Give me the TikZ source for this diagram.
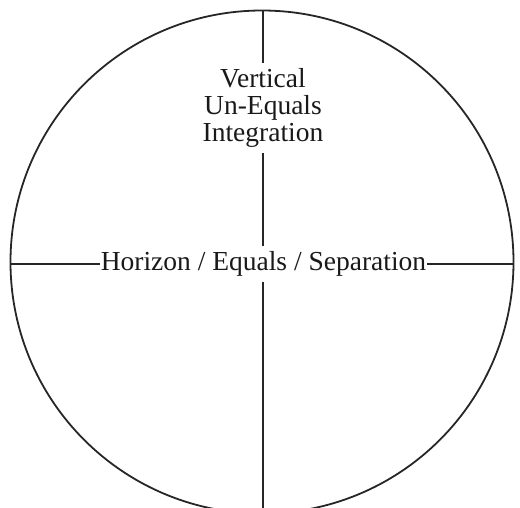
\documentclass[tikz,border=0pt]{standalone}
\usepackage{fontspec}
\setmainfont{Liberation Serif}
\begin{document}
\begin{tikzpicture}[x=1pt,y=1pt,
  lbl/.style={font=\fontsize{27.5}{27}\selectfont, text=black!90, align=center},
  ln/.style={draw=black!85, line width=1.8pt}]
\useasboundingbox (0,0) rectangle (520,-507);
\clip (0,0) rectangle (520,-507);
\node[circle, ln, minimum size=503pt, inner sep=0pt, outer sep=0pt] (c) at (262,-262) {};
\node[lbl, inner xsep=1pt, inner ysep=5pt] (hz) at (263.5,-264) {Horizon / Equals / Separation};
\node[lbl, inner sep=5pt] (vt) at (263,-108) {Vertical\\Un-Equals\\Integration};
\draw[ln] (hz.west -| c.west) -- (hz.west);
\draw[ln] (hz.east) -- (hz.east -| c.east);
\draw[ln] (vt.north |- c.north) -- (vt.north);
\draw[ln] (vt.south) -- (vt.south |- hz.north);
\draw[ln] (vt.south |- hz.south) -- (vt.south |- c.south);
\end{tikzpicture}
\end{document}
